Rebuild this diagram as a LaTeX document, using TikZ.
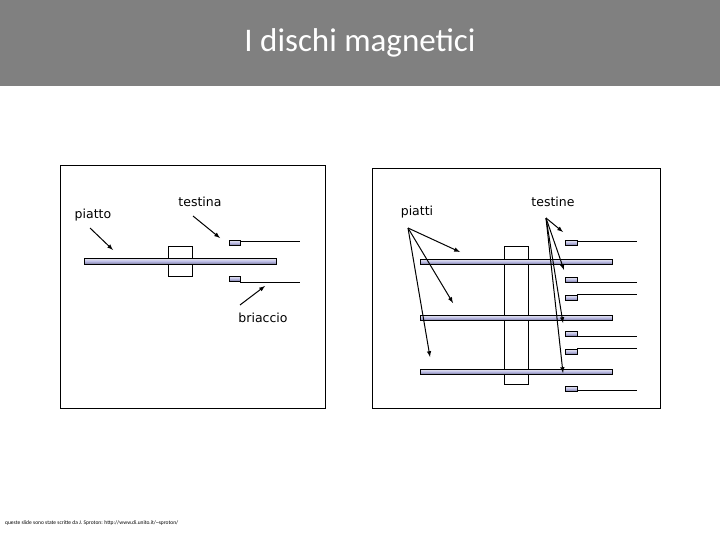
\documentclass[tikz,border=0pt]{standalone}
\usepackage{fontspec}
\setmainfont{Carlito}
\newfontfamily\vfont{DejaVu Sans}
\begin{document}
\begin{tikzpicture}[x=1pt,y=-1pt,
  plat/.style={draw=black,line width=0.6pt,top color=black!8,bottom color=black!70!blue!50,middle color=black!35!blue!25},
  box/.style={draw=black,line width=0.6pt},
  arr/.style={-latex,line width=1pt},
  lab/.style={font=\vfont\fontsize{12.5}{14}\selectfont,inner sep=0pt}]
\useasboundingbox (0,0) rectangle (720,540);
\fill[black!50] (0,0) rectangle (720,86);
\node[text=white,font=\fontsize{33}{36}\selectfont] (title) at (360,43) {I dischi magnetici};
% left panel
\draw[box,fill=white] (60,165) rectangle (325,408);
\draw[box] (168,246) rectangle (192,276);
\draw[plat] (84,258) rectangle (276,264);
\draw[plat] (229,240) rectangle (240,245);
\draw[plat] (229,276) rectangle (240,281);
\draw (240,241) -- (300,241);
\draw (240,282) -- (300,282);
\node[lab] (piatto) at (93,215) {piatto};
\node[lab] (testina) at (200,202) {testina};
\node[lab] (bri) at (263,318) {briaccio};
\coordinate (a1) at (113,250);
\coordinate (a2) at (220,238);
\coordinate (a3) at (265,286);
\draw[arr] (90,228) -- (a1);
\draw[arr] (193,216) -- (a2);
\draw[arr] (240,305) -- (a3);
% right panel
\draw[box,fill=white] (372,168) rectangle (660,408);
\draw[box] (504,246) rectangle (528,384);
\foreach \y in {259,315,369}{\draw[plat] (420,\y) rectangle (612,\y+5);}
\foreach \y in {240,277,295,331,349,386}{\draw[plat] (565,\y) rectangle (577,\y+5);}
\foreach \y in {241,282,294,336,348,390}{\draw (577,\y) -- (637,\y);}
\node[lab] (piatti) at (417,212) {piatti};
\node[lab] (testine) at (553,202) {testine};
\coordinate (p0) at (408,228);
\coordinate (t0) at (546,218);
\foreach \x/\y in {460/252,453/303,430/357}{\draw[arr] (p0) -- (\x,\y);}
\foreach \x/\y in {563/232,564/270,563/323,563/373}{\draw[arr] (t0) -- (\x,\y);}
\node[anchor=west,inner sep=0pt,font=\fontsize{5.5}{6}\selectfont] (foot) at (5,523) {queste slide sono state scritte da J. Sproton: http://www.di.unito.it/\textasciitilde sproton/};
\end{tikzpicture}
\end{document}
